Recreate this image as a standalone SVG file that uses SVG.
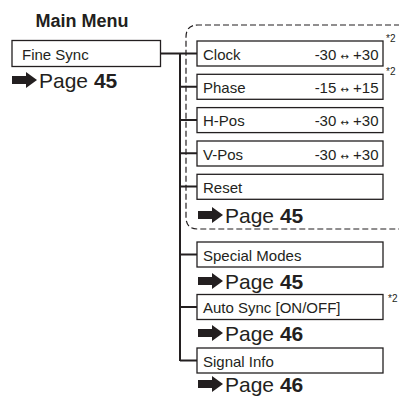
<svg xmlns="http://www.w3.org/2000/svg" width="399" height="400" viewBox="0 0 399 400">
<defs>
<style>
.box{fill:#fff;stroke:#231f20;stroke-width:1.3}
.lbl{font-family:"Liberation Sans",Arial,sans-serif;font-size:15px;fill:#231f20}
.rng{font-family:"Liberation Sans",Arial,sans-serif;font-size:15px;fill:#231f20;text-anchor:end}
.ar{font-family:"DejaVu Sans",sans-serif;font-size:10px}
.sup{font-family:"Liberation Sans",Arial,sans-serif;font-size:10px;fill:#231f20}
.pg{font-family:"Liberation Sans",Arial,sans-serif;font-size:21px;fill:#231f20}
.b{font-weight:bold}
.ln{fill:none;stroke:#231f20;stroke-width:2}
.dash{fill:none;stroke:#231f20;stroke-width:1.2;stroke-dasharray:6 3}
</style>
<path id="arr" d="M0,4 H14 V0 L25,8 L14,16 V12 H0 Z" fill="#231f20"/>
</defs>
<text x="82" y="26.5" text-anchor="middle" class="lbl b" style="font-size:18px">Main Menu</text>
<path class="dash" d="M400,25 H198 Q186,25 186,37 V217 Q186,229 198,229 H400"/>
<g id="connectors">
<path class="ln" d="M160.5,53.5 H197 M180,53.5 V361 M180,86.8 H197 M180,120 H197 M180,153.3 H197 M180,186.6 H197 M180,254.5 H197 M180,307 H197 M180,360.5 H197"/>
</g>
<g id="fine-sync">
<rect class="box" x="12" y="40.5" width="148.5" height="26"/>
<text class="lbl" x="22" y="59.5">Fine Sync</text>
<use href="#arr" x="12" y="72"/>
<text class="pg" x="39" y="88">Page <tspan class="b">45</tspan></text>
</g>
<g id="clock">
<rect class="box" x="197" y="41" width="186" height="25"/>
<text class="lbl" x="203" y="59.5">Clock</text>
<text class="rng" x="378.5" y="59.5">-30 <tspan class="ar">↔</tspan> +30</text>
<text class="sup" x="386" y="42">*2</text>
</g>
<g id="phase">
<rect class="box" x="197" y="74.3" width="186" height="25"/>
<text class="lbl" x="203" y="92.8">Phase</text>
<text class="rng" x="378.5" y="92.8">-15 <tspan class="ar">↔</tspan> +15</text>
<text class="sup" x="386" y="75.3">*2</text>
</g>
<g id="h-pos">
<rect class="box" x="197" y="107.6" width="186" height="25"/>
<text class="lbl" x="203" y="126.1">H-Pos</text>
<text class="rng" x="378.5" y="126.1">-30 <tspan class="ar">↔</tspan> +30</text>
</g>
<g id="v-pos">
<rect class="box" x="197" y="141" width="186" height="25"/>
<text class="lbl" x="203" y="159.5">V-Pos</text>
<text class="rng" x="378.5" y="159.5">-30 <tspan class="ar">↔</tspan> +30</text>
</g>
<g id="reset">
<rect class="box" x="197" y="174.3" width="186" height="25"/>
<text class="lbl" x="203" y="192.8">Reset</text>
<use href="#arr" x="198" y="207"/>
<text class="pg" x="225" y="223">Page <tspan class="b">45</tspan></text>
</g>
<g id="special-modes">
<rect class="box" x="197" y="242" width="186" height="25"/>
<text class="lbl" x="203" y="260.5">Special Modes</text>
<use href="#arr" x="198" y="273"/>
<text class="pg" x="225" y="289">Page <tspan class="b">45</tspan></text>
</g>
<g id="auto-sync">
<rect class="box" x="197" y="294.5" width="186" height="25"/>
<text class="lbl" x="203" y="313">Auto Sync [ON/OFF]</text>
<text class="sup" x="388" y="302">*2</text>
<use href="#arr" x="198" y="325"/>
<text class="pg" x="225" y="341">Page <tspan class="b">46</tspan></text>
</g>
<g id="signal-info">
<rect class="box" x="197" y="348" width="186" height="25"/>
<text class="lbl" x="203" y="366.5">Signal Info</text>
<use href="#arr" x="198" y="376"/>
<text class="pg" x="225" y="392">Page <tspan class="b">46</tspan></text>
</g>
</svg>
